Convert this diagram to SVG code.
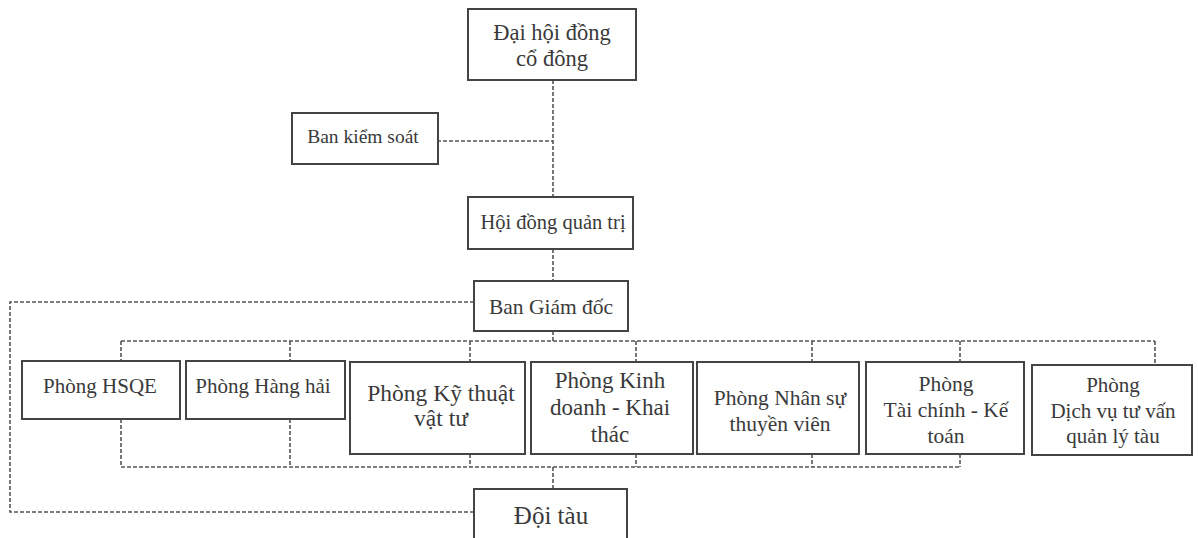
<svg xmlns="http://www.w3.org/2000/svg" width="1198" height="538" viewBox="0 0 1198 538">
<style>
.box{fill:#fff;stroke:#444;stroke-width:2}
.t{font-family:"Liberation Serif","Times New Roman",serif;fill:#3a3a3a;text-anchor:middle}
.c{fill:none;stroke:#555;stroke-width:1.6;stroke-dasharray:4,2}
</style>
<rect width="1198" height="538" fill="#fff"/>
<g id="connectors">
<path class="c" d="M553 80V197M437 141H553M553 249V281"/>
<path class="c" d="M553 331V341M121 341H1155M121 341V361M290 341V361M470 341V362M636 341V362M812 341V362M960 341V362M1155 341V365"/>
<path class="c" d="M474 302H10V512H474"/>
<path class="c" d="M121 419V467M290 419V467M470 454V467M636 454V467M812 454V467M960 454V467M121 467H960M553 467V489"/>
</g>
<g id="n-dhdcd"><rect class="box" x="468" y="9" width="168" height="71"/><text class="t" font-size="22.5"><tspan x="552" y="40">Đại hội đồng</tspan><tspan x="552" y="66">cổ đông</tspan></text></g>
<g id="n-bks"><rect class="box" x="292" y="113" width="146" height="51"/><text class="t" font-size="19.5" x="363" y="143">Ban kiểm soát</text></g>
<g id="n-hdqt"><rect class="box" x="468" y="197" width="165" height="52"/><text class="t" font-size="20.5" x="553" y="229">Hội đồng quản trị</text></g>
<g id="n-bgd"><rect class="box" x="474" y="281" width="154" height="50"/><text class="t" font-size="21.5" x="551" y="314">Ban Giám đốc</text></g>
<g id="n-hsqe"><rect class="box" x="22" y="361" width="158" height="58"/><text class="t" font-size="21" x="100" y="393">Phòng HSQE</text></g>
<g id="n-hh"><rect class="box" x="186" y="361" width="159" height="58"/><text class="t" font-size="21" x="263" y="393">Phòng Hàng hải</text></g>
<g id="n-ktvt"><rect class="box" x="350" y="362" width="175" height="92"/><text class="t" font-size="23.5"><tspan x="441" y="401">Phòng Kỹ thuật</tspan><tspan x="441" y="426">vật tư</tspan></text></g>
<g id="n-kdkt"><rect class="box" x="531" y="362" width="162" height="92"/><text class="t" font-size="23"><tspan x="610" y="388">Phòng Kinh</tspan><tspan x="610" y="415">doanh - Khai</tspan><tspan x="610" y="442">thác</tspan></text></g>
<g id="n-nstv"><rect class="box" x="697" y="362" width="162" height="92"/><text class="t" font-size="21.5"><tspan x="780" y="405">Phòng Nhân sự</tspan><tspan x="780" y="431">thuyền viên</tspan></text></g>
<g id="n-tckt"><rect class="box" x="866" y="362" width="158" height="92"/><text class="t" font-size="21.5"><tspan x="946" y="391">Phòng</tspan><tspan x="946" y="417">Tài chính - Kế</tspan><tspan x="946" y="443">toán</tspan></text></g>
<g id="n-dvtv"><rect class="box" x="1032" y="365" width="160" height="90"/><text class="t" font-size="21"><tspan x="1113" y="392">Phòng</tspan><tspan x="1113" y="418">Dịch vụ tư vấn</tspan><tspan x="1113" y="443">quản lý tàu</tspan></text></g>
<g id="n-doitau"><rect class="box" x="474" y="489" width="153" height="60"/><text class="t" font-size="25" x="551" y="524">Đội tàu</text></g>
</svg>
